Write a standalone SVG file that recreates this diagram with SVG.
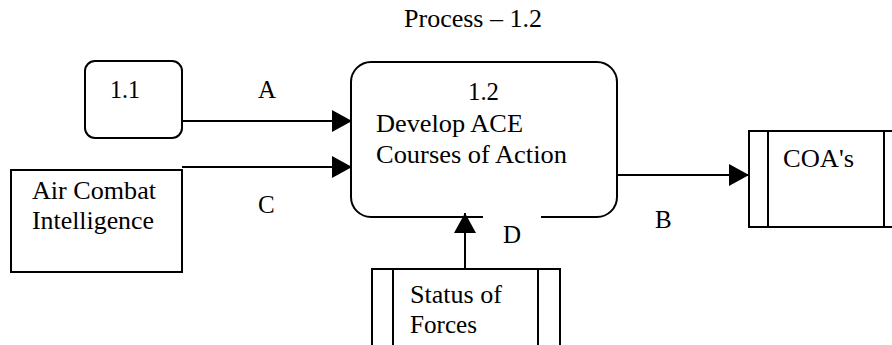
<svg xmlns="http://www.w3.org/2000/svg" width="892" height="345" viewBox="0 0 892 345">
<defs>
<marker id="arr" markerUnits="userSpaceOnUse" markerWidth="20" markerHeight="22" refX="20" refY="11" orient="auto">
<path d="M0,0 L20,11 L0,22 z" fill="#000"/>
</marker>
<style>
text{font-family:'Liberation Serif','Tinos','Times New Roman',Times,'Noto Serif','DejaVu Serif',serif;font-size:25px;fill:#000}
.shape{fill:none;stroke:#000;stroke-width:2}
.conn{fill:none;stroke:#000;stroke-width:2;marker-end:url(#arr)}
</style>
</defs>
<rect width="892" height="345" fill="#fff"/>
<text id="title" x="404" y="27" textLength="138" lengthAdjust="spacingAndGlyphs">Process – 1.2</text>
<g id="node-1-1">
<rect class="shape" x="85" y="61" width="97" height="77" rx="10"/>
<text x="110" y="98" textLength="30" lengthAdjust="spacingAndGlyphs">1.1</text>
</g>
<g id="node-aci">
<rect class="shape" x="11" y="170" width="171" height="102"/>
<text x="32" y="199" textLength="124" lengthAdjust="spacingAndGlyphs">Air Combat</text>
<text x="32" y="229" textLength="122" lengthAdjust="spacingAndGlyphs">Intelligence</text>
</g>
<g id="node-1-2">
<path class="shape" d="M483,217 L371,217 A20,20 0 0 1 351,197 L351,82 A20,20 0 0 1 371,62 L597,62 A20,20 0 0 1 617,82 L617,197 A20,20 0 0 1 597,217 L541,217"/>
<text x="468" y="100" textLength="31" lengthAdjust="spacingAndGlyphs">1.2</text>
<text x="376" y="132" textLength="147" lengthAdjust="spacingAndGlyphs">Develop ACE</text>
<text x="376" y="163" textLength="191" lengthAdjust="spacingAndGlyphs">Courses of Action</text>
</g>
<g id="node-coas">
<rect class="shape" x="749" y="131" width="200" height="96"/>
<line class="shape" x1="768" y1="131" x2="768" y2="227"/>
<line class="shape" x1="884" y1="131" x2="884" y2="227"/>
<text x="783" y="167" textLength="71" lengthAdjust="spacingAndGlyphs">COA's</text>
</g>
<g id="node-status">
<rect class="shape" x="372" y="269" width="188" height="100"/>
<line class="shape" x1="393" y1="269" x2="393" y2="369"/>
<line class="shape" x1="538" y1="269" x2="538" y2="369"/>
<text x="410" y="303" textLength="92" lengthAdjust="spacingAndGlyphs">Status of</text>
<text x="410" y="333" textLength="67" lengthAdjust="spacingAndGlyphs">Forces</text>
</g>
<g id="connectors">
<line class="conn" x1="182" y1="121" x2="352" y2="121"/>
<line class="conn" x1="182" y1="167" x2="352" y2="167"/>
<line class="conn" x1="617" y1="175" x2="749" y2="175"/>
<line class="conn" x1="465" y1="269" x2="465" y2="213"/>
<text x="258" y="98">A</text>
<text x="258" y="213">C</text>
<text x="655" y="228">B</text>
<text x="503" y="243">D</text>
</g>
</svg>
